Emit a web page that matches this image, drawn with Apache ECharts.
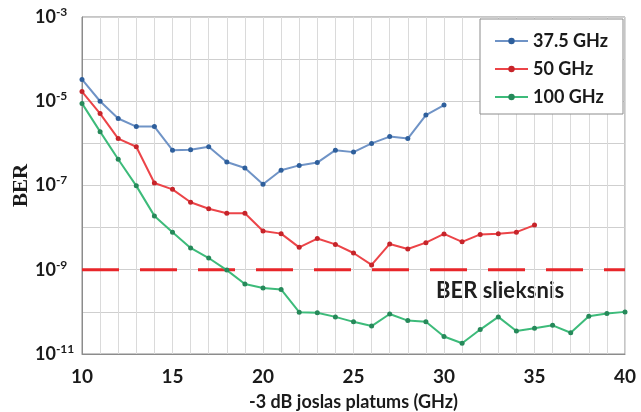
<!DOCTYPE html>
<html>
<head>
<meta charset="utf-8">
<script src="https://cdn.jsdelivr.net/npm/echarts@6/dist/echarts.min.js"></script>
<style>
html,body{margin:0;padding:0;background:#fff;}
#chart{width:641px;height:412px;}
</style>
</head>
<body>
<div id="chart"></div>
<script>
// bandwidth (GHz)
const bw375 = [10,11,12,13,14,15,16,17,18,19,20,21,22,23,24,25,26,27,28,29,30];
const ber375 = [3.3e-5,1.0e-5,3.9e-6,2.5e-6,2.5e-6,6.9e-7,7.1e-7,8.3e-7,3.6e-7,2.6e-7,1.07e-7,2.3e-7,3.0e-7,3.5e-7,6.9e-7,6.2e-7,1.0e-6,1.45e-6,1.3e-6,4.7e-6,8.1e-6];
const bw50 = [10,11,12,13,14,15,16,17,18,19,20,21,22,23,24,25,26,27,28,29,30,31,32,33,34,35];
const ber50 = [1.7e-5,5.1e-6,1.3e-6,8.3e-7,1.15e-7,8.1e-8,4.0e-8,2.8e-8,2.2e-8,2.2e-8,8.3e-9,7.2e-9,3.4e-9,5.5e-9,4.0e-9,2.5e-9,1.3e-9,4.1e-9,3.1e-9,4.4e-9,7.1e-9,4.6e-9,6.9e-9,7.2e-9,7.8e-9,1.15e-8];
const bw100 = [10,11,12,13,14,15,16,17,18,19,20,21,22,23,24,25,26,27,28,29,30,31,32,33,34,35,36,37,38,39,40];
const ber100 = [8.9e-6,1.9e-6,4.2e-7,9.8e-8,1.9e-8,7.8e-9,3.3e-9,1.9e-9,9.8e-10,4.6e-10,3.7e-10,3.4e-10,9.8e-11,9.5e-11,7.6e-11,5.8e-11,4.6e-11,8.9e-11,6.2e-11,5.8e-11,2.6e-11,1.8e-11,3.8e-11,7.6e-11,3.5e-11,4.1e-11,4.8e-11,3.2e-11,7.9e-11,9.1e-11,1.0e-10];
const seriesNames = ['37.5 GHz','50 GHz','100 GHz'];
const thresholdBER = 1e-9;
const thresholdLabel = 'BER slieksnis';
const xAxisName = '-3 dB joslas platums (GHz)';
const yAxisName = 'BER';

const SANS = 'Lato, "Open Sans", sans-serif';
const pair = (xs, ys) => xs.map((x, i) => [x, ys[i]]);

const chart = echarts.init(document.getElementById('chart'), null, {renderer: 'canvas'});

function lineSeries(name, data, lineColor, markColor) {
  return {
    name: name, type: 'line', data: data,
    symbol: 'circle', symbolSize: 5, z: 3,
    lineStyle: {color: lineColor, width: 2},
    itemStyle: {color: markColor},
    color: lineColor
  };
}

chart.setOption({
  animation: false,
  backgroundColor: '#fff',
  grid: {left: 82, right: 16, top: 17, bottom: 58, containLabel: false, outerBoundsMode: 'none',
         show: true, borderColor: '#8c8c8c', borderWidth: 1},
  legend: {
    data: seriesNames,
    orient: 'vertical',
    right: 18, top: 19,
    backgroundColor: '#fff',
    borderColor: '#8c8c8c', borderWidth: 1,
    padding: [13, 15, 8, 14],
    itemGap: 10,
    itemWidth: 33, itemHeight: 8,
    textStyle: {fontFamily: SANS, fontSize: 18, fontWeight: 700, color: '#1a1a1a'}
  },
  xAxis: {
    type: 'value', min: 10, max: 40, interval: 5,
    name: xAxisName, nameLocation: 'middle', nameGap: 39, nameMoveOverlap: false,
    nameTextStyle: {fontFamily: SANS, fontSize: 18, fontWeight: 700, color: '#1a1a1a'},
    axisLine: {show: true, lineStyle: {color: '#8c8c8c'}},
    axisTick: {show: false},
    axisLabel: {margin: 13, fontFamily: SANS, fontSize: 19, fontWeight: 700, color: '#1a1a1a'},
    splitLine: {show: true, lineStyle: {color: '#dadada'}},
    minorTick: {show: false, splitNumber: 5},
    minorSplitLine: {show: true, lineStyle: {color: '#dadada'}}
  },
  yAxis: {
    type: 'log', logBase: 10, min: 1e-11, max: 1e-3, splitNumber: 8,
    name: yAxisName, nameLocation: 'middle', nameGap: 50, nameRotate: 90, nameMoveOverlap: false,
    nameTextStyle: {fontFamily: '"Liberation Serif", "DejaVu Serif", serif', fontSize: 21, fontWeight: 700, color: '#1a1a1a'},
    axisLine: {show: true, lineStyle: {color: '#8c8c8c'}},
    axisTick: {show: false},
    axisLabel: {
      align: 'left', margin: 47,
      formatter: function (v) {
        const e = Math.round(Math.log10(v));
        if (Math.abs(e) % 2 !== 1) return '';
        return '{b|10}{s|' + e + '}';
      },
      rich: {
        b: {fontFamily: SANS, fontSize: 18, fontWeight: 700, color: '#1a1a1a', lineHeight: 22},
        s: {fontFamily: SANS, fontSize: 12, fontWeight: 700, color: '#1a1a1a', verticalAlign: 'top', lineHeight: 22, padding: [0, 0, 8, 0]}
      }
    },
    splitLine: {show: true, lineStyle: {color: '#cfcfcf'}}
  },
  series: [
    {
      name: 'threshold', type: 'line', data: [[10, thresholdBER], [40, thresholdBER]],
      symbol: 'none', z: 2, silent: true,
      lineStyle: {color: '#e8262a', width: 3, type: [37, 21]}
    },
    lineSeries(seriesNames[0], pair(bw375, ber375), '#6f93c6', '#2e5f9c'),
    lineSeries(seriesNames[1], pair(bw50, ber50), '#ec4448', '#c6242a'),
    lineSeries(seriesNames[2], pair(bw100, ber100), '#3dbb7a', '#26895a')
  ],
  graphic: [{
    type: 'text', left: 436, top: 280,
    style: {text: thresholdLabel, fontFamily: 'Lato, "Open Sans", sans-serif', fontSize: 22, fontWeight: 700, fill: '#1f1f1f'}
  }]
});
</script>
</body>
</html>
